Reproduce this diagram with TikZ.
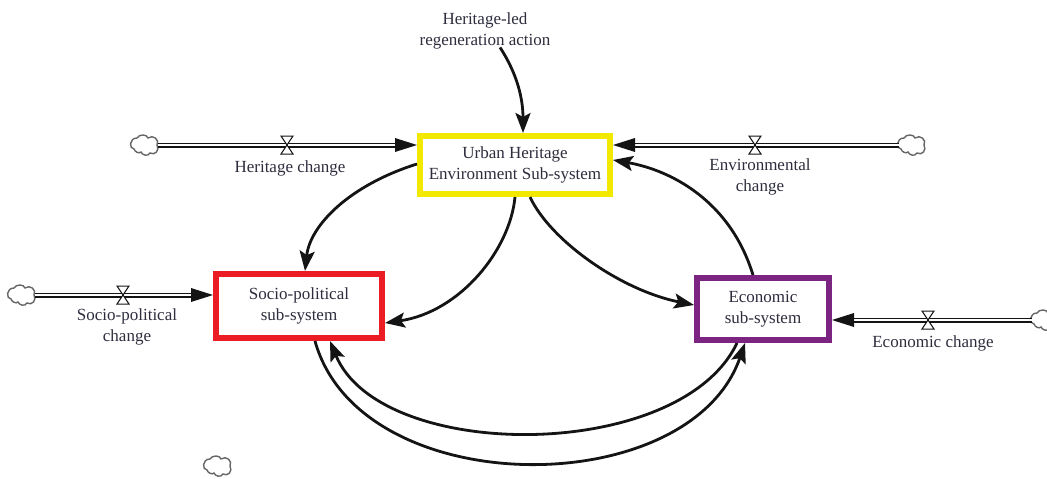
\documentclass[tikz,border=0pt]{standalone}
\usepackage{fontspec}
\setmainfont{Liberation Serif}
\usetikzlibrary{arrows.meta,calc}
\definecolor{hyellow}{RGB}{243,233,0}
\definecolor{hred}{RGB}{236,28,36}
\definecolor{hpurple}{RGB}{124,36,130}
\definecolor{txt}{RGB}{45,45,62}
\definecolor{ink}{RGB}{20,20,20}
\begin{document}
\begin{tikzpicture}[x=1pt,y=-1pt,
  lab/.style={align=center,text=txt,font=\fontsize{17}{21}\selectfont,inner sep=0pt},
  sysbox/.style={draw,line width=6pt,fill=white,align=center,text=txt,
     font=\fontsize{17}{21}\selectfont,inner sep=0pt},
  link/.style={draw=ink,line width=2.8pt,-{Stealth[length=20pt,width=15pt,inset=4pt]}},
  pipe/.style={draw=ink,line width=1.2pt,double=white,double distance=2.6pt},
  pipehead/.style={fill=ink},
  valve/.pic={\draw[ink,line width=1pt,fill=white] (-6,-9) -- (6,-9) -- (-6,9) -- (6,9) -- cycle;},
  cloud/.pic={\draw[gray!80!black,line width=1.4pt,fill=white]
     (-11,4) .. controls (-16,4) and (-16,-7) .. (-8,-7)
     .. controls (-6,-11) and (2,-11) .. (3,-7)
     .. controls (8,-11) and (15,-5) .. (12,0)
     .. controls (15,5) and (10,11) .. (5,8)
     .. controls (3,12) and (-3,10) .. (-4,7)
     .. controls (-6,9) and (-10,7) .. (-11,4) -- cycle;}
]
\useasboundingbox (0,0) rectangle (1047,479);

% boxes
\node[sysbox,draw=hyellow,minimum width=190pt,minimum height=58pt] (uhe) at (515,165)
  {Urban Heritage\\Environment Sub-system};
\node[sysbox,draw=hred,minimum width=166pt,minimum height=64pt] (sp) at (299,306)
  {Socio-political\\sub-system};
\node[sysbox,draw=hpurple,minimum width=132pt,minimum height=62pt] (eco) at (763,309)
  {Economic\\sub-system};

% clouds
\coordinate (c1) at (145,145);
\coordinate (c2) at (912,145);
\coordinate (c3) at (22,295);
\coordinate (c4) at (1045,320);
\coordinate (c5) at (218,466);
\foreach \c in {c1,c2,c3,c4,c5} \pic at (\c) {cloud};

% flow targets
\coordinate (t1) at (c1 -| uhe.west);
\coordinate (t2) at (c2 -| uhe.east);
\coordinate (t3) at (c3 -| sp.west);
\coordinate (t4) at (c4 -| eco.east);

% pipes
\draw[pipe] ($(c1)+(13,0)$) -- ($(t1)+(-20,0)$);
\fill[pipehead] (t1) -- ++(-22,-7) -- ++(0,14) -- cycle;
\draw[pipe] ($(c2)+(-13,0)$) -- ($(t2)+(20,0)$);
\fill[pipehead] (t2) -- ++(22,-7) -- ++(0,14) -- cycle;
\draw[pipe] ($(c3)+(13,0)$) -- ($(t3)+(-20,0)$);
\fill[pipehead] (t3) -- ++(-22,-7) -- ++(0,14) -- cycle;
\draw[pipe] ($(c4)+(-13,0)$) -- ($(t4)+(20,0)$);
\fill[pipehead] (t4) -- ++(22,-7) -- ++(0,14) -- cycle;

% valves
\pic at (287,145) {valve};
\pic at (755,145) {valve};
\pic at (123,295) {valve};
\pic at (928,320) {valve};

% labels
\node[lab] (hc) at (290,168) {Heritage change};
\node[lab] (ec) at (760,177) {Environmental\\change};
\node[lab] (spc) at (127,327) {Socio-political\\change};
\node[lab] (ecc) at (933,343) {Economic change};
\node[lab] (act) at (485,31) {Heritage-led\\regeneration action};

% causal links
\draw[link] ($(act.south)+(15,-2)$) .. controls (518,75) and (523,100) .. ($(uhe.north)+(8,0)$);
\draw[link] ($(uhe.west)+(0,-1)$) .. controls (350,185) and (310,225) .. ($(sp.north)+(6,0)$);
\draw[link] ($(uhe.south)+(0,0)$) .. controls (510,250) and (460,312) .. ($(sp.east)+(0,17)$);
\draw[link] ($(uhe.south)+(15,0)$) .. controls (550,240) and (620,290) .. ($(eco.west)+(0,-4)$);
\draw[link] ($(eco.north)+(-10,0)$) .. controls (730,200) and (670,170) .. ($(uhe.east)+(0,-5)$);
\draw[link] ($(sp.south)+(16,0)$) .. controls (360,503) and (690,503) .. ($(eco.south)+(-18,0)$);
\draw[link] ($(eco.south)+(-26,0)$) .. controls (680,463) and (380,463) .. ($(sp.south)+(31,0)$);
\end{tikzpicture}
\end{document}
